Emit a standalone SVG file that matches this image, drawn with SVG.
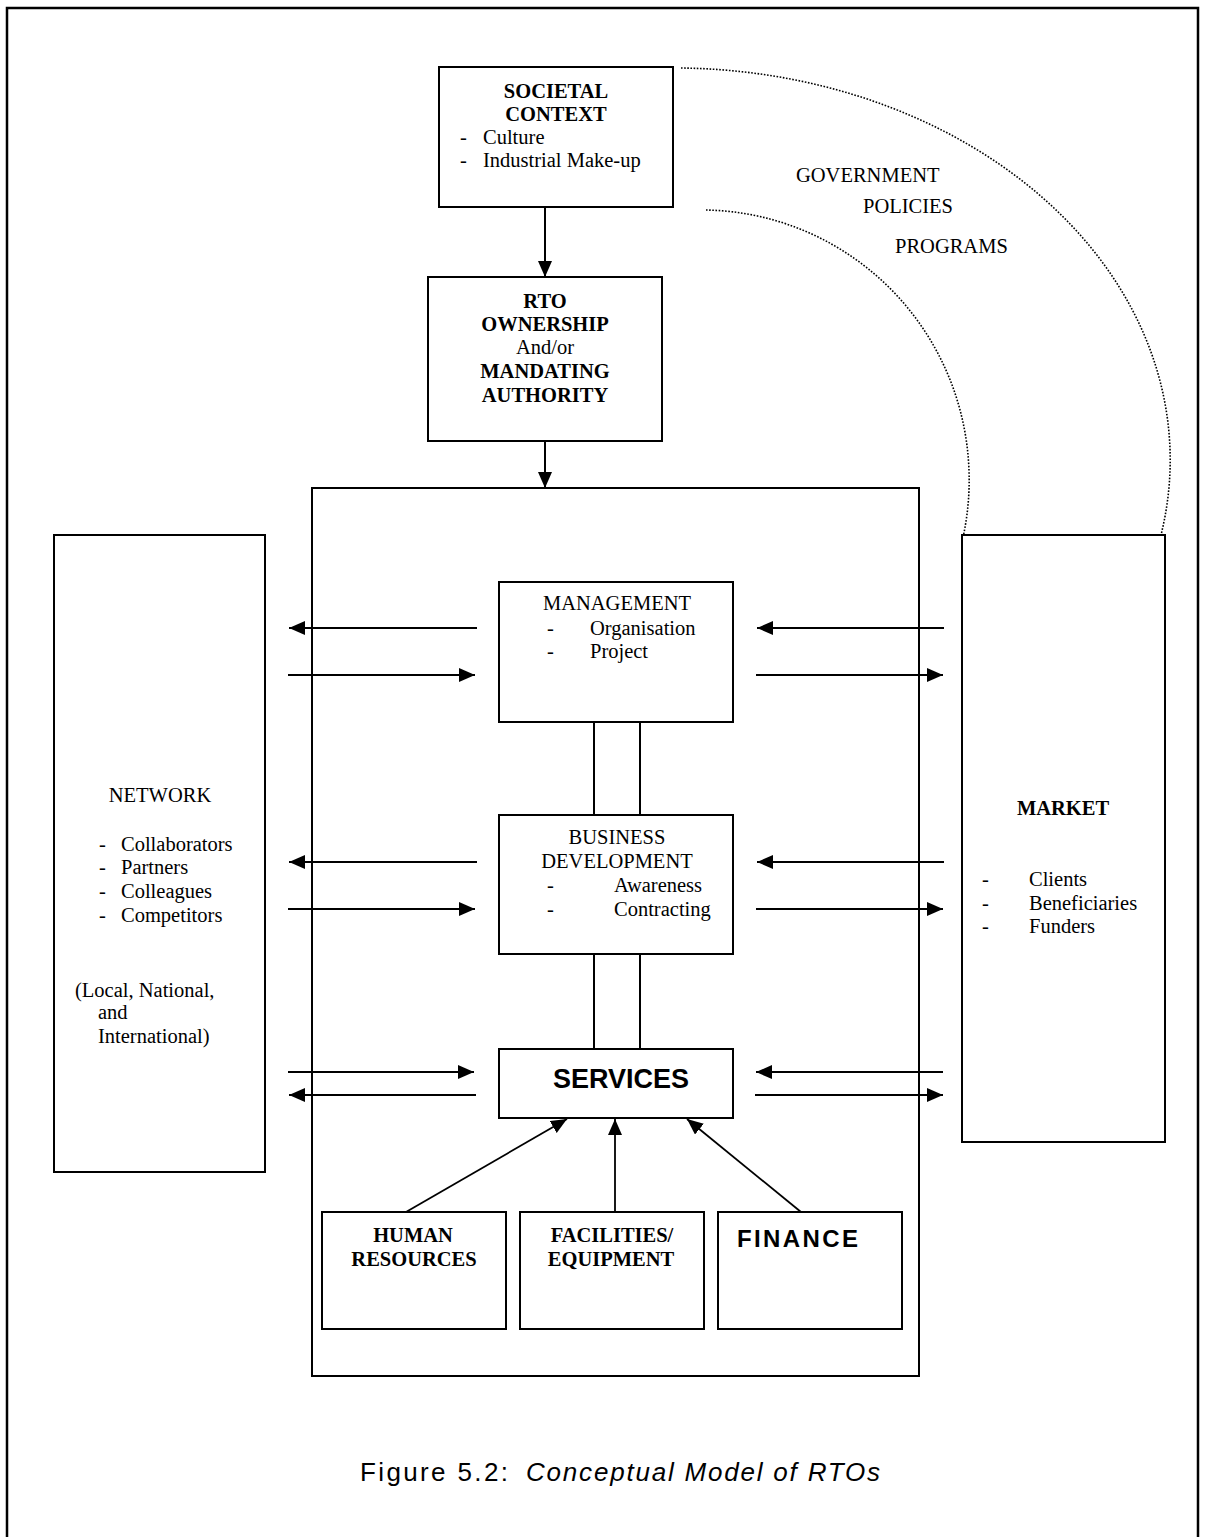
<svg xmlns="http://www.w3.org/2000/svg" width="1207" height="1537" viewBox="0 0 1207 1537">
<style>
.box{fill:#fff;stroke:#000;stroke-width:2}
.ln{fill:none;stroke:#000;stroke-width:2}
.thin{fill:none;stroke:#000;stroke-width:1.8}
.dot{fill:none;stroke:#000;stroke-width:1.6;stroke-dasharray:1.6 1.6}
.t{font-family:"Liberation Serif","Times New Roman",serif;font-size:20.5px;fill:#000}
.b{font-weight:bold}
.c{text-anchor:middle}
.s{font-family:"Liberation Sans",Arial,sans-serif;fill:#000}
</style>
<defs>
<marker id="ah" markerUnits="userSpaceOnUse" markerWidth="17" markerHeight="14" refX="16" refY="7" orient="auto" viewBox="0 0 17 14">
<path d="M0,0 L16,7 L0,14 z" fill="#000"/>
</marker>
</defs>
<rect width="1207" height="1537" fill="#fff"/>
<path d="M7,1537 V8 H1198 V1537" fill="none" stroke="#000" stroke-width="2.5"/>

<g id="connectors">
<path class="dot" d="M681,68 A497,392 0 0 1 1161,535"/>
<path class="dot" d="M706,210 A268,270 0 0 1 962,542"/>
<line class="ln" x1="545" y1="207" x2="545" y2="277" marker-end="url(#ah)"/>
<line class="ln" x1="545" y1="441" x2="545" y2="488" marker-end="url(#ah)"/>
<line class="ln" x1="594" y1="722" x2="594" y2="815"/>
<line class="ln" x1="640" y1="722" x2="640" y2="815"/>
<line class="ln" x1="594" y1="954" x2="594" y2="1049"/>
<line class="ln" x1="640" y1="954" x2="640" y2="1049"/>
<line class="ln" x1="477" y1="628" x2="289" y2="628" marker-end="url(#ah)"/>
<line class="ln" x1="288" y1="675" x2="475" y2="675" marker-end="url(#ah)"/>
<line class="ln" x1="944" y1="628" x2="757" y2="628" marker-end="url(#ah)"/>
<line class="ln" x1="756" y1="675" x2="943" y2="675" marker-end="url(#ah)"/>
<line class="ln" x1="477" y1="862" x2="289" y2="862" marker-end="url(#ah)"/>
<line class="ln" x1="288" y1="909" x2="475" y2="909" marker-end="url(#ah)"/>
<line class="ln" x1="944" y1="862" x2="757" y2="862" marker-end="url(#ah)"/>
<line class="ln" x1="756" y1="909" x2="943" y2="909" marker-end="url(#ah)"/>
<line class="ln" x1="288" y1="1072" x2="474" y2="1072" marker-end="url(#ah)"/>
<line class="ln" x1="476" y1="1095" x2="289" y2="1095" marker-end="url(#ah)"/>
<line class="ln" x1="943" y1="1072" x2="756" y2="1072" marker-end="url(#ah)"/>
<line class="ln" x1="755" y1="1095" x2="943" y2="1095" marker-end="url(#ah)"/>
<line class="thin" x1="406" y1="1212" x2="567" y2="1119" marker-end="url(#ah)"/>
<line class="thin" x1="615" y1="1212" x2="615" y2="1119" marker-end="url(#ah)"/>
<line class="thin" x1="801" y1="1212" x2="687" y2="1119" marker-end="url(#ah)"/>
</g>

<g id="societal">
<rect class="box" x="439" y="67" width="234" height="140"/>
<text class="t b c" x="556" y="98">SOCIETAL</text>
<text class="t b c" x="556" y="121">CONTEXT</text>
<text class="t" x="460" y="144">-</text>
<text class="t" x="483" y="144">Culture</text>
<text class="t" x="460" y="167">-</text>
<text class="t" x="483" y="167">Industrial Make-up</text>
</g>

<g id="government">
<text class="t" x="796" y="182">GOVERNMENT</text>
<text class="t" x="863" y="213">POLICIES</text>
<text class="t" x="895" y="253">PROGRAMS</text>
</g>

<g id="rto">
<rect class="box" x="428" y="277" width="234" height="164"/>
<text class="t b c" x="545" y="308">RTO</text>
<text class="t b c" x="545" y="331">OWNERSHIP</text>
<text class="t c" x="545" y="354">And/or</text>
<text class="t b c" x="545" y="378">MANDATING</text>
<text class="t b c" x="545" y="402">AUTHORITY</text>
</g>

<g id="rto-box">
<rect x="312" y="488" width="607" height="888" fill="none" stroke="#000" stroke-width="2"/>
</g>

<g id="management">
<rect class="box" x="499" y="582" width="234" height="140"/>
<text class="t c" x="617" y="610">MANAGEMENT</text>
<text class="t" x="547" y="635">-</text>
<text class="t" x="590" y="635">Organisation</text>
<text class="t" x="547" y="658">-</text>
<text class="t" x="590" y="658">Project</text>
</g>

<g id="business">
<rect class="box" x="499" y="815" width="234" height="139"/>
<text class="t c" x="617" y="844">BUSINESS</text>
<text class="t c" x="617" y="868">DEVELOPMENT</text>
<text class="t" x="547" y="892">-</text>
<text class="t" x="614" y="892">Awareness</text>
<text class="t" x="547" y="916">-</text>
<text class="t" x="614" y="916">Contracting</text>
</g>

<g id="services">
<rect class="box" x="499" y="1049" width="234" height="69"/>
<text class="s c" x="621" y="1088" font-size="27" font-weight="bold">SERVICES</text>
</g>

<g id="human">
<rect class="box" x="322" y="1212" width="184" height="117"/>
<text class="t b c" x="413" y="1242">HUMAN</text>
<text class="t b c" x="414" y="1266">RESOURCES</text>
</g>

<g id="facilities">
<rect class="box" x="520" y="1212" width="184" height="117"/>
<text class="t b c" x="612" y="1242">FACILITIES/</text>
<text class="t b c" x="611" y="1266">EQUIPMENT</text>
</g>

<g id="finance">
<rect class="box" x="718" y="1212" width="184" height="117"/>
<text class="s" x="737" y="1247" font-size="24" font-weight="bold" textLength="121" lengthAdjust="spacing">FINANCE</text>
</g>

<g id="network">
<rect class="box" x="54" y="535" width="211" height="637"/>
<text class="t c" x="160" y="802">NETWORK</text>
<text class="t" x="99" y="851">-</text>
<text class="t" x="121" y="851">Collaborators</text>
<text class="t" x="99" y="874">-</text>
<text class="t" x="121" y="874">Partners</text>
<text class="t" x="99" y="898">-</text>
<text class="t" x="121" y="898">Colleagues</text>
<text class="t" x="99" y="922">-</text>
<text class="t" x="121" y="922">Competitors</text>
<text class="t" x="75" y="997">(Local, National,</text>
<text class="t" x="98" y="1019">and</text>
<text class="t" x="98" y="1043">International)</text>
</g>

<g id="market">
<rect class="box" x="962" y="535" width="203" height="607"/>
<text class="t b c" x="1063" y="815">MARKET</text>
<text class="t" x="982" y="886">-</text>
<text class="t" x="1029" y="886">Clients</text>
<text class="t" x="982" y="910">-</text>
<text class="t" x="1029" y="910">Beneficiaries</text>
<text class="t" x="982" y="933">-</text>
<text class="t" x="1029" y="933">Funders</text>
</g>

<g id="caption">
<text class="s" x="360" y="1481" font-size="26" textLength="148" lengthAdjust="spacing">Figure 5.2:</text>
<text class="s" x="526" y="1481" font-size="26" font-style="italic" textLength="354" lengthAdjust="spacing">Conceptual Model of  RTOs</text>
</g>
</svg>
